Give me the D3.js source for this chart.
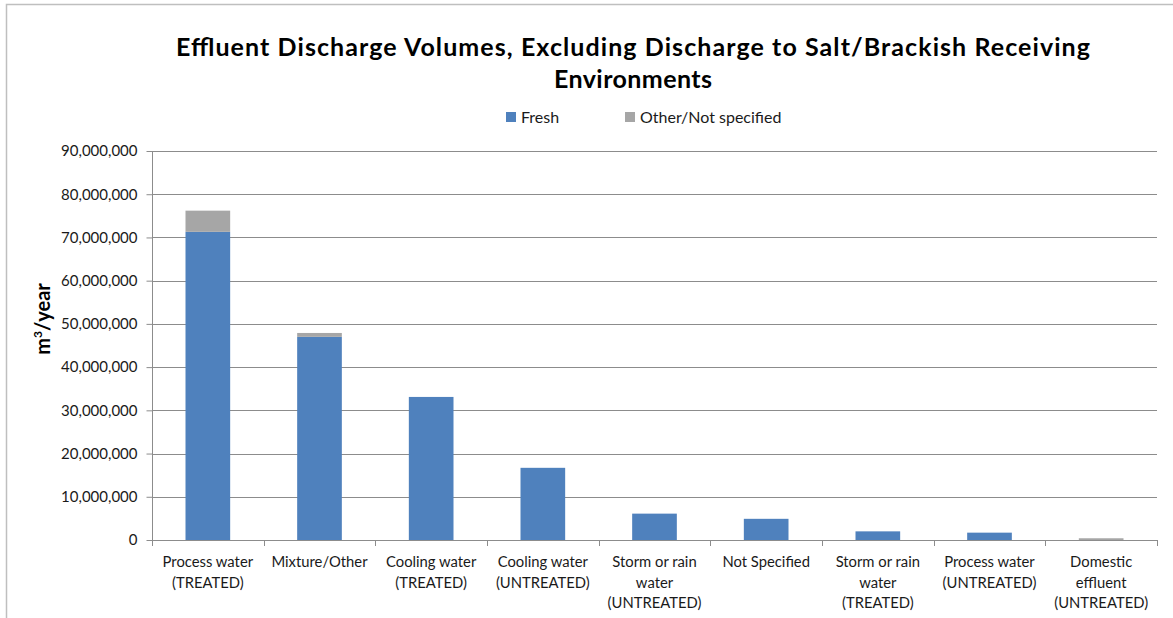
<!DOCTYPE html>
<html>
<head>
<meta charset="utf-8">
<script src="https://cdn.jsdelivr.net/npm/d3@7"></script>
<style>
  body { margin: 0; background: #fff; }
  svg { display: block; font-family: Lato, "Open Sans", sans-serif; }
</style>
</head>
<body>
<svg id="chart" width="1173" height="618"></svg>
<script>
// カテゴリ（改行は配列で表現）
const categories = [
  ["Process water", "(TREATED)"],
  ["Mixture/Other"],
  ["Cooling water", "(TREATED)"],
  ["Cooling water", "(UNTREATED)"],
  ["Storm or rain", "water", "(UNTREATED)"],
  ["Not Specified"],
  ["Storm or rain", "water", "(TREATED)"],
  ["Process water", "(UNTREATED)"],
  ["Domestic", "effluent", "(UNTREATED)"]
];
const freshValues = [71300000, 47000000, 33100000, 16700000, 6100000, 4900000, 2000000, 1700000, 0];
const otherValues = [4900000, 900000, 0, 0, 0, 0, 0, 0, 400000];
const seriesNames = ["Fresh", "Other/Not specified"];
const seriesColors = ["#4f81bd", "#a6a6a6"];
const yTicks = [0, 10000000, 20000000, 30000000, 40000000, 50000000, 60000000, 70000000, 80000000, 90000000];

const svg = d3.select("#chart");

// 外枠
svg.append("path")
  .attr("d", "M6.5,618 V4.5 H1173")
  .attr("fill", "none")
  .attr("stroke", "#bfbfbf")
  .attr("stroke-width", 1.5);

const plotLeft = 152, plotRight = 1157, plotTop = 151, plotBottom = 540;

const keys = categories.map(c => c.join(" "));
const x = d3.scaleBand().domain(keys).range([plotLeft, plotRight]).paddingInner(0.6).paddingOuter(0.3);
const y = d3.scaleLinear().domain([0, 90000000]).range([plotBottom, plotTop]);

// グリッド線
svg.append("g")
  .selectAll("line")
  .data(yTicks.slice(1))
  .join("line")
  .attr("x1", plotLeft).attr("x2", plotRight)
  .attr("y1", d => Math.round(y(d)) + 0.5).attr("y2", d => Math.round(y(d)) + 0.5)
  .attr("stroke", "#8c8c8c");

// 積み上げデータ
const rows = keys.map((k, i) => ({ key: k, fresh: freshValues[i], other: otherValues[i] }));
const stacked = d3.stack().keys(["fresh", "other"])(rows);

svg.append("g")
  .selectAll("g")
  .data(stacked)
  .join("g")
  .attr("fill", (d, i) => seriesColors[i])
  .selectAll("rect")
  .data(d => d)
  .join("rect")
  .attr("x", d => x(d.data.key))
  .attr("width", x.bandwidth())
  .attr("y", d => y(d[1]))
  .attr("height", d => Math.max(0, y(d[0]) - y(d[1])));

// Y軸
const yAxis = svg.append("g")
  .attr("transform", `translate(${plotLeft + 0.5},0)`)
  .call(d3.axisLeft(y).tickValues(yTicks).tickSize(6).tickPadding(9).tickFormat(d3.format(",")));
yAxis.select(".domain").attr("stroke", "#8c8c8c").attr("d", `M0,${plotTop}V${plotBottom}`);
yAxis.selectAll(".tick line").attr("stroke", "#8c8c8c");
yAxis.selectAll(".tick text").attr("fill", "#1a1a1a").attr("font-size", 15).attr("font-family", "Lato, sans-serif");

// X軸
const xAxis = svg.append("g")
  .attr("transform", `translate(0,${plotBottom + 0.5})`)
  .call(d3.axisBottom(x).tickSize(0).tickFormat(""));
xAxis.select(".domain").attr("stroke", "#8c8c8c").attr("d", `M${plotLeft},0H${plotRight}`);

svg.append("g")
  .selectAll("line")
  .data(d3.range(keys.length + 1))
  .join("line")
  .attr("x1", i => Math.round(plotLeft + (plotRight - plotLeft) * i / keys.length) + 0.5)
  .attr("x2", i => Math.round(plotLeft + (plotRight - plotLeft) * i / keys.length) + 0.5)
  .attr("y1", plotBottom).attr("y2", plotBottom + 6)
  .attr("stroke", "#8c8c8c");

svg.append("g")
  .selectAll("text")
  .data(categories)
  .join("text")
  .attr("x", (d, i) => x(keys[i]) + x.bandwidth() / 2)
  .attr("y", 567)
  .attr("text-anchor", "middle")
  .attr("font-size", 14.8)
  .attr("fill", "#1a1a1a")
  .selectAll("tspan")
  .data(d => d)
  .join("tspan")
  .attr("x", function () { return d3.select(this.parentNode).attr("x"); })
  .attr("dy", (d, i) => i === 0 ? 0 : 20.5)
  .text(d => d);

// タイトル
const title = svg.append("text")
  .attr("x", 633)
  .attr("text-anchor", "middle")
  .attr("font-size", 25)
  .attr("font-weight", "bold")
  .attr("fill", "#000");
title.append("tspan").attr("x", 633).attr("y", 56)
  .attr("textLength", 914).attr("lengthAdjust", "spacing")
  .text("Effluent Discharge Volumes, Excluding Discharge to Salt/Brackish Receiving");
title.append("tspan").attr("x", 633).attr("y", 88)
  .attr("textLength", 158).attr("lengthAdjust", "spacing")
  .text("Environments");

// 凡例
const legendX = [506, 625];
const legend = svg.append("g")
  .selectAll("g")
  .data(seriesNames)
  .join("g")
  .attr("transform", (d, i) => `translate(${legendX[i]},112)`);
legend.append("rect").attr("width", 10).attr("height", 10).attr("fill", (d, i) => seriesColors[i]);
legend.append("text").attr("x", 15).attr("y", 11).attr("font-size", 16).attr("fill", "#1a1a1a").text(d => d);

// Y軸タイトル
const yTitle = svg.append("text")
  .attr("transform", "translate(50,319) rotate(-90)")
  .attr("text-anchor", "middle")
  .attr("font-size", 20)
  .attr("font-weight", "bold")
  .attr("fill", "#000");
yTitle.append("tspan").text("m");
yTitle.append("tspan").attr("font-size", 12).attr("dy", -8).text("3");
yTitle.append("tspan").attr("dy", 8).text("/year");
</script>
</body>
</html>
